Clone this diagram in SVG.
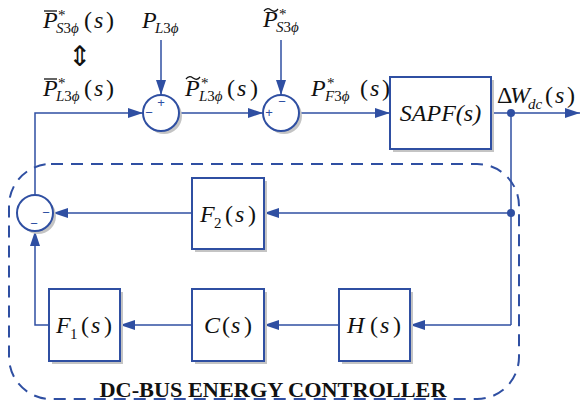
<svg xmlns="http://www.w3.org/2000/svg" width="581" height="408" viewBox="0 0 581 408">
<style>
.ln{fill:none;stroke:#2F4FA2;stroke-width:1.5}
.bx{fill:#fff;stroke:#2F4FA2;stroke-width:2}
.sh{fill:#c4c4c4;stroke:none}
.t{fill:#111}
.i{font-style:italic}
.m{font-size:24px}
.s{font-size:15px}
.sg{fill:#2F4FA2;font-size:13px;text-anchor:middle}
.ac{fill:none;stroke:#111;stroke-width:1.3}
</style>
<defs>
<marker id="ar" markerUnits="userSpaceOnUse" markerWidth="15" markerHeight="10" refX="15" refY="5" orient="auto">
<path d="M0,0 L15,5 L0,10 z" fill="#2F4FA2"/>
</marker>
</defs>
<rect x="9" y="164" width="510" height="235" rx="42" fill="none" stroke="#2F4FA2" stroke-width="2" stroke-dasharray="12 8"/>
<g id="connectors">
<path class="ln" d="M35,195 V113 H143" marker-end="url(#ar)"/>
<path class="ln" d="M161,40 V95" marker-end="url(#ar)"/>
<path class="ln" d="M179,113 H263" marker-end="url(#ar)"/>
<path class="ln" d="M281,40 V95" marker-end="url(#ar)"/>
<path class="ln" d="M299,113 H390" marker-end="url(#ar)"/>
<path class="ln" d="M491,113 H580" marker-end="url(#ar)"/>
<path class="ln" d="M511,113 V325"/>
<path class="ln" d="M511,213 H264" marker-end="url(#ar)"/>
<path class="ln" d="M192,213 H53" marker-end="url(#ar)"/>
<path class="ln" d="M511,325 H410" marker-end="url(#ar)"/>
<path class="ln" d="M339,325 H264" marker-end="url(#ar)"/>
<path class="ln" d="M192,325 H120" marker-end="url(#ar)"/>
<path class="ln" d="M49,325 H35 V231" marker-end="url(#ar)"/>
<circle cx="511" cy="113" r="4" fill="#2F4FA2"/>
<circle cx="511" cy="213" r="4" fill="#2F4FA2"/>
</g>
<g font-family="'Liberation Sans', Arial, sans-serif">
<g id="sum1">
<circle cx="164" cy="116" r="18" class="sh"/>
<circle cx="161" cy="113" r="18" class="bx"/>
<text x="161" y="107" class="sg">+</text>
<text x="149" y="117" class="sg">−</text>
</g>
<g id="sum2">
<circle cx="284" cy="116" r="18" class="sh"/>
<circle cx="281" cy="113" r="18" class="bx"/>
<text x="282" y="106" class="sg">−</text>
<text x="269" y="117" class="sg">+</text>
</g>
<g id="sum3">
<circle cx="38" cy="216" r="18" class="sh"/>
<circle cx="35" cy="213" r="18" class="bx"/>
<text x="46" y="217" class="sg">−</text>
<text x="34" y="228" class="sg">−</text>
</g>
</g>
<g font-family="'Liberation Serif', 'DejaVu Serif', serif">
<g id="sapf">
<rect x="393" y="80" width="101" height="72" class="sh"/>
<rect x="390" y="77" width="101" height="72" class="bx"/>
<text x="440.5" y="121" class="t i m" text-anchor="middle">SAPF(s)</text>
</g>
<g id="f2">
<rect x="195" y="181" width="72" height="71" class="sh"/>
<rect x="192" y="178" width="72" height="71" class="bx"/>
<text class="t m" y="222"><tspan x="200" class="i">F</tspan><tspan x="214" y="228" class="s">2</tspan><tspan x="225" y="222">(</tspan><tspan x="235" class="i">s</tspan><tspan x="248">)</tspan></text>
</g>
<g id="f1">
<rect x="52" y="292" width="71" height="72" class="sh"/>
<rect x="49" y="289" width="71" height="72" class="bx"/>
<text class="t m" y="333"><tspan x="56" class="i">F</tspan><tspan x="70" y="339" class="s">1</tspan><tspan x="81" y="333">(</tspan><tspan x="91" class="i">s</tspan><tspan x="104">)</tspan></text>
</g>
<g id="c">
<rect x="195" y="292" width="72" height="72" class="sh"/>
<rect x="192" y="289" width="72" height="72" class="bx"/>
<text class="t m" y="333"><tspan x="204" class="i">C</tspan><tspan x="222">(</tspan><tspan x="231" class="i">s</tspan><tspan x="244">)</tspan></text>
</g>
<g id="h">
<rect x="342" y="292" width="71" height="72" class="sh"/>
<rect x="339" y="289" width="71" height="72" class="bx"/>
<text class="t m" y="333"><tspan x="347" class="i">H</tspan><tspan x="370">(</tspan><tspan x="380" class="i">s</tspan><tspan x="393">)</tspan></text>
</g>
<g id="labels">
<line x1="44" y1="11" x2="57" y2="11" class="ac"/>
<text class="t m" y="28"><tspan x="43" class="i">P</tspan><tspan x="84">(</tspan><tspan x="94" class="i">s</tspan><tspan x="106">)</tspan></text>
<text class="t s" x="58" y="20">*</text>
<text class="t s" x="56" y="33"><tspan class="i">S</tspan>3<tspan class="i">ϕ</tspan></text>
<text x="80" y="66" font-family="'DejaVu Sans', sans-serif" font-size="28" text-anchor="middle" fill="#111">⇕</text>
<line x1="44" y1="79" x2="57" y2="79" class="ac"/>
<text class="t m" y="96"><tspan x="43" class="i">P</tspan><tspan x="84">(</tspan><tspan x="94" class="i">s</tspan><tspan x="106">)</tspan></text>
<text class="t s" x="58" y="88">*</text>
<text class="t s" x="56" y="101"><tspan class="i">L</tspan>3<tspan class="i">ϕ</tspan></text>
<text class="t m i" x="142" y="28">P</text>
<text class="t s" x="155" y="33"><tspan class="i">L</tspan>3<tspan class="i">ϕ</tspan></text>
<path class="ac" d="M186,79 q3,-4 7,-1 q4,3 7,-1"/>
<text class="t m" y="96"><tspan x="185" class="i">P</tspan><tspan x="227">(</tspan><tspan x="237" class="i">s</tspan><tspan x="250">)</tspan></text>
<text class="t s" x="201" y="88">*</text>
<text class="t s" x="199" y="101"><tspan class="i">L</tspan>3<tspan class="i">ϕ</tspan></text>
<path class="ac" d="M264,11 q3,-4 7,-1 q4,3 7,-1"/>
<text class="t m i" x="263" y="27">P</text>
<text class="t s" x="279" y="19">*</text>
<text class="t s" x="276" y="32"><tspan class="i">S</tspan>3<tspan class="i">ϕ</tspan></text>
<text class="t m" y="96"><tspan x="311" class="i">P</tspan><tspan x="360">(</tspan><tspan x="370" class="i">s</tspan><tspan x="382">)</tspan></text>
<text class="t s" x="327" y="88">*</text>
<text class="t s" x="325" y="101"><tspan class="i">F</tspan>3<tspan class="i">ϕ</tspan></text>
<text class="t m" y="103"><tspan x="497">Δ</tspan><tspan x="510" class="i">W</tspan><tspan x="545">(</tspan><tspan x="555" class="i">s</tspan><tspan x="567">)</tspan></text>
<text class="t s i" x="528" y="109">dc</text>
<text class="t" x="273" y="397" font-size="20" font-weight="bold" text-anchor="middle" textLength="347" lengthAdjust="spacingAndGlyphs">DC-BUS ENERGY CONTROLLER</text>
</g>
</g>
</svg>
